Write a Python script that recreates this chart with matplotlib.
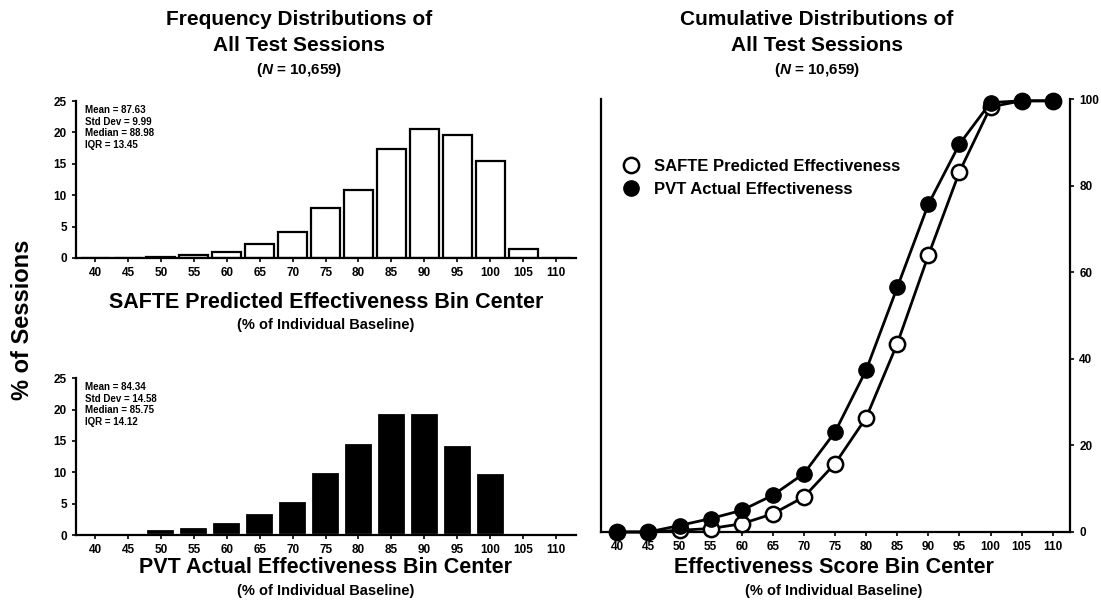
import matplotlib.pyplot as plt
import numpy as np

plt.rcParams['font.family'] = ['Liberation Sans', 'DejaVu Sans']
plt.rcParams['font.weight'] = 'bold'
plt.rcParams['mathtext.fontset'] = 'custom'
plt.rcParams['mathtext.bfit'] = 'Liberation Sans:italic:bold'

bins = [40, 45, 50, 55, 60, 65, 70, 75, 80, 85, 90, 95, 100, 105, 110]
safte_freq = [0.0, 0.05, 0.2, 0.45, 1.0, 2.3, 4.2, 7.9, 10.8, 17.4, 20.6, 19.6, 15.4, 1.5, 0.0]
pvt_freq = [0.2, 0.35, 0.9, 1.3, 2.1, 3.5, 5.5, 10.1, 14.6, 19.5, 19.5, 14.4, 9.9, 0.25, 0.0]
safte_cum = [0.0, 0.0, 0.4, 0.8, 1.9, 4.2, 8.1, 15.8, 26.4, 43.5, 63.9, 83.2, 98.2, 99.6, 99.6]
pvt_cum = [0.0, 0.0, 1.5, 3.1, 5.0, 8.5, 13.5, 23.1, 37.4, 56.5, 75.7, 89.6, 99.2, 99.6, 99.6]
safte_stats = "Mean = 87.63\nStd Dev = 9.99\nMedian = 88.98\nIQR = 13.45"
pvt_stats = "Mean = 84.34\nStd Dev = 14.58\nMedian = 85.75\nIQR = 14.12"

fig = plt.figure(figsize=(11.01, 6.08), dpi=100)


def hist_panel(rect, values, face, edge, stats):
    ax = fig.add_axes(rect)
    ax.bar(bins, values, width=4.4, color=face, edgecolor=edge, linewidth=1.6)
    ax.set_xlim(37.1, 113)
    ax.set_ylim(0, 25)
    ax.set_xticks(bins)
    ax.set_yticks([0, 5, 10, 15, 20, 25])
    ax.tick_params(labelsize=8.5, width=1.2, length=3)
    for s in ['top', 'right']:
        ax.spines[s].set_visible(False)
    for s in ['left', 'bottom']:
        ax.spines[s].set_linewidth(1.6)
    ax.text(0.018, 0.975, stats, transform=ax.transAxes, va='top', ha='left',
            fontsize=7, linespacing=1.2)
    return ax


ax1 = hist_panel([0.069, 0.5757, 0.454, 0.258], safte_freq, 'white', 'black', safte_stats)
ax2 = hist_panel([0.069, 0.120, 0.454, 0.258], pvt_freq, 'black', 'white', pvt_stats)

ax3 = fig.add_axes([0.546, 0.125, 0.426, 0.712])
ax3.plot(bins, safte_cum, '-o', color='black', lw=2, ms=11, mfc='white', mec='black',
         mew=1.8, clip_on=False, zorder=3, label='SAFTE Predicted Effectiveness')
ax3.plot(bins, pvt_cum, '-o', color='black', lw=2, ms=11, mfc='black', mec='black',
         clip_on=False, zorder=4, label='PVT Actual Effectiveness')
ax3.set_xlim(37.4, 112.8)
ax3.set_ylim(0, 100)
ax3.set_xticks(bins)
ax3.yaxis.tick_right()
ax3.set_yticks([0, 20, 40, 60, 80, 100])
ax3.tick_params(labelsize=8.5, width=1.2, length=3)
ax3.spines['top'].set_visible(False)
for s in ['left', 'right', 'bottom']:
    ax3.spines[s].set_linewidth(1.6)
leg = ax3.legend(loc='upper left', bbox_to_anchor=(0.02, 0.888), frameon=False, fontsize=12,
                 handletextpad=0.9, borderaxespad=0.3, numpoints=1, handlelength=1.0,
                 labelspacing=0.45)
for h in leg.get_lines():
    h.set_linestyle('none')

# titles
for cx, word in [(0.272, "Frequency"), (0.742, "Cumulative")]:
    fig.text(cx, 0.968, word + " Distributions of", ha='center', va='center', fontsize=15)
    fig.text(cx, 0.925, "All Test Sessions", ha='center', va='center', fontsize=15)
    fig.text(cx, 0.885, "($\\mathbfit{N}$ = 10,659)", ha='center', va='center', fontsize=11)

# axis labels
fig.text(0.02, 0.474, "% of Sessions", rotation=90, ha='center', va='center', fontsize=17)
fig.text(0.296, 0.502, "SAFTE Predicted Effectiveness Bin Center", ha='center', va='center', fontsize=15.5)
fig.text(0.296, 0.465, "(% of Individual Baseline)", ha='center', va='center', fontsize=10.5)
fig.text(0.296, 0.066, "PVT Actual Effectiveness Bin Center", ha='center', va='center', fontsize=15.5)
fig.text(0.296, 0.028, "(% of Individual Baseline)", ha='center', va='center', fontsize=10.5)
fig.text(0.757, 0.066, "Effectiveness Score Bin Center", ha='center', va='center', fontsize=15.5)
fig.text(0.757, 0.028, "(% of Individual Baseline)", ha='center', va='center', fontsize=10.5)

fig.savefig('out.png', dpi=100)
